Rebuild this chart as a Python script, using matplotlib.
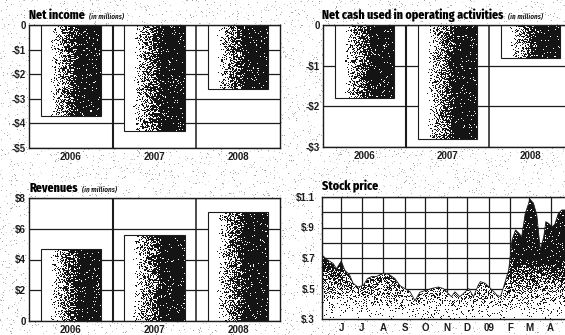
import numpy as np
import pandas as pd
import matplotlib
matplotlib.use("Agg")
import matplotlib.pyplot as plt
import matplotlib.dates as mdates

years = ["2006", "2007", "2008"]
net_income = [-3.7, -4.3, -2.6]
net_cash = [-1.8, -2.8, -0.8]
revenues = [4.7, 5.6, 7.1]

stock_dates = ["2008-05-04", "2008-05-11", "2008-05-20", "2008-05-25", "2008-06-01",
               "2008-06-06", "2008-06-13", "2008-06-18", "2008-06-25", "2008-07-03",
               "2008-07-09", "2008-07-15", "2008-07-22", "2008-07-27", "2008-08-03",
               "2008-08-10", "2008-08-18", "2008-08-25", "2008-09-01", "2008-09-09",
               "2008-09-16", "2008-09-23", "2008-10-03", "2008-10-10", "2008-10-20",
               "2008-10-27", "2008-11-03", "2008-11-08", "2008-11-13", "2008-11-20",
               "2008-11-28", "2008-12-03", "2008-12-10", "2008-12-17", "2008-12-20",
               "2008-12-27", "2009-01-01", "2009-01-06", "2009-01-13", "2009-01-18",
               "2009-01-22", "2009-01-30", "2009-02-04", "2009-02-09", "2009-02-14",
               "2009-02-18", "2009-02-23", "2009-03-02", "2009-03-07", "2009-03-12",
               "2009-03-17", "2009-03-22", "2009-03-25", "2009-03-29", "2009-04-03",
               "2009-04-07", "2009-04-12", "2009-04-17", "2009-04-21", "2009-04-28"]
stock_price = [0.72, 0.69, 0.665, 0.63, 0.68,
               0.62, 0.59, 0.535, 0.51, 0.52,
               0.565, 0.578, 0.578, 0.59, 0.60,
               0.59, 0.565, 0.52, 0.50, 0.478,
               0.42, 0.475, 0.49, 0.50, 0.51,
               0.50, 0.468, 0.446, 0.478, 0.446,
               0.478, 0.50, 0.446, 0.523, 0.545,
               0.534, 0.512, 0.49, 0.457, 0.446,
               0.50, 0.62, 0.818, 0.884, 0.862,
               0.84, 0.99, 1.085, 1.06, 0.98,
               0.752, 0.84, 0.938, 0.927, 0.905,
               0.92, 0.99, 1.015, 1.015, 1.0]
month_starts = ["2008-06-01", "2008-07-01", "2008-08-01", "2008-09-01", "2008-10-01",
                "2008-11-01", "2008-12-01", "2009-01-01", "2009-02-01", "2009-03-01",
                "2009-04-01"]
month_labels = ["J", "J", "A", "S", "O", "N", "D", "09", "F", "M", "A"]

W, H = 565, 335
rng = np.random.default_rng(7)

title_font = dict(family=["Fira Sans Condensed", "DejaVu Sans"], weight=800, size=8.6)
note_font = dict(family=["Fira Sans Condensed", "DejaVu Sans"], style="italic", weight=500, size=5.2)
tick_font = dict(family=["Liberation Sans", "DejaVu Sans"], weight="bold", size=7)
INK = "#1c1c1c"

fig = plt.figure(figsize=(W / 100, H / 100), dpi=100, facecolor="white")

# light newsprint grain behind the panels
bg = np.ones((H, W))
spots = rng.random((H, W)) < 0.045
bg[spots] = rng.uniform(0.6, 0.9, spots.sum())
fig.figimage(bg, cmap="gray", vmin=0, vmax=1, zorder=-5)


def px_axes(left, top, right, bottom):
    return fig.add_axes([left / W, (H - bottom) / H, (right - left) / W, (bottom - top) / H])


def title(x, y, main, note):
    t = fig.text(x / W, (H - y) / H, main, ha="left", va="baseline", **title_font)
    if note:
        fig.canvas.draw()
        bb = t.get_window_extent()
        fig.text((bb.x1 + 4) / W, (H - y) / H, note, ha="left", va="baseline", **note_font)


def stipple_bar(ax, bar):
    # dithered white-to-black ramp, left to right, clipped to the bar
    bb = bar.get_window_extent()
    nx = max(int(round(bb.width)), 2)
    ny = max(int(round(bb.height)), 2)
    t = (np.arange(nx) + 0.5) / nx
    dens = np.clip((t - 0.15) / 0.47, 0, 1) * 0.95
    dots = rng.random((ny, nx)) < dens[None, :]
    img = np.where(dots, 0.08, 1.0)
    x0, y0 = bar.get_x(), bar.get_y()
    y1 = y0 + bar.get_height()
    im = ax.imshow(img, cmap="gray", vmin=0, vmax=1, aspect="auto", origin="lower",
                   interpolation="nearest", zorder=2.5,
                   extent=[x0, x0 + bar.get_width(), min(y0, y1), max(y0, y1)])
    im.set_clip_path(bar)


def bar_panel(ax, values, ymin, ymax, step, labels, ypad):
    x = np.arange(len(years))
    ax.set_xlim(-0.5, 2.5)
    ax.set_ylim(ymin, ymax)
    bars = ax.bar(x, values, 0.72, facecolor="none", edgecolor=INK, lw=0.8, zorder=3)
    for b in bars:
        stipple_bar(ax, b)
    ax.set_xlim(-0.5, 2.5)
    ax.set_ylim(ymin, ymax)
    ax.set_yticks(np.arange(ymin, ymax + step / 2, step))
    ax.set_yticklabels(labels, **tick_font)
    ax.set_xticks(x)
    ax.set_xticklabels(years, **tick_font)
    ax.tick_params(length=0, colors=INK)
    ax.tick_params(axis="y", pad=ypad)
    ax.tick_params(axis="x", pad=3.2)
    ax.yaxis.grid(True, color=INK, lw=0.9, zorder=1)
    ax.set_axisbelow(True)
    ax.axvline(0.5, color=INK, lw=1.5, zorder=1.5)
    ax.axvline(1.5, color=INK, lw=1.1, zorder=1.5)
    for s in ax.spines.values():
        s.set_color(INK)
        s.set_linewidth(1.0)


# Net income
ax1 = px_axes(29, 25, 280, 148)
bar_panel(ax1, net_income, -5, 0, 1, ["-$5", "-$4", "-$3", "-$2", "-$1", "0"], 2)
title(29, 19, "Net income", "(in millions)")

# Net cash used in operating activities
ax2 = px_axes(323, 25, 572, 147)
bar_panel(ax2, net_cash, -3, 0, 1, ["-$3", "-$2", "-$1", "0"], 2)
title(322, 19, "Net cash used in operating activities", "(in millions)")

# Revenues
ax3 = px_axes(29, 198, 280, 321)
bar_panel(ax3, revenues, 0, 8, 2, ["0", "$2", "$4", "$6", "$8"], 2.5)
title(29, 191.5, "Revenues", "(in millions)")

# Stock price
ax4 = px_axes(322, 197, 572, 319)
dates = pd.to_datetime(stock_dates)
xnum = mdates.date2num(dates)
x_lo = mdates.date2num(pd.Timestamp("2008-05-04"))
x_hi = mdates.date2num(pd.Timestamp("2009-05-02"))
ax4.set_xlim(x_lo, x_hi)
ax4.set_ylim(0.3, 1.1)
fill = ax4.fill_between(xnum, stock_price, 0.3, facecolor="none", edgecolor="none")
# area shading darkens with price: faint stipple near $.3, solid black above ~$.7
bb = ax4.get_window_extent()
ny, nx = int(round(bb.height)), int(round(bb.width))
yy = 0.3 + (np.arange(ny) + 0.5) / ny * 0.8
dens = 0.06 + 0.88 * np.clip((yy - 0.33) / 0.36, 0, 1) ** 1.25
dots = rng.random((ny, nx)) < dens[:, None]
grad = np.where(dots, 0.08, 1.0)
im = ax4.imshow(grad, cmap="gray", vmin=0, vmax=1, aspect="auto", origin="lower",
                interpolation="nearest", zorder=2.5, extent=[x_lo, x_hi, 0.3, 1.1])
im.set_clip_path(fill.get_paths()[0], ax4.transData)
ax4.plot(xnum, stock_price, color=INK, lw=0.6, zorder=3)
ax4.set_xlim(x_lo, x_hi)
ax4.set_ylim(0.3, 1.1)
ax4.set_yticks([0.3, 0.5, 0.7, 0.9, 1.1])
ax4.set_yticklabels(["$.3", "$.5", "$.7", "$.9", "$1.1"], **tick_font)
ax4.set_yticks([0.4, 0.6, 0.8, 1.0], minor=True)
ax4.set_xticks(mdates.date2num(pd.to_datetime(month_starts)))
ax4.set_xticklabels(month_labels, **tick_font)
ax4.tick_params(which="both", length=0, colors=INK)
ax4.tick_params(axis="y", pad=5)
ax4.tick_params(axis="x", pad=3)
ax4.grid(True, which="both", color=INK, lw=0.9, zorder=1)
ax4.set_axisbelow(True)
for s in ax4.spines.values():
    s.set_color(INK)
    s.set_linewidth(1.0)
title(322, 190.5, "Stock price", "")

fig.savefig("out.png", dpi=100)
